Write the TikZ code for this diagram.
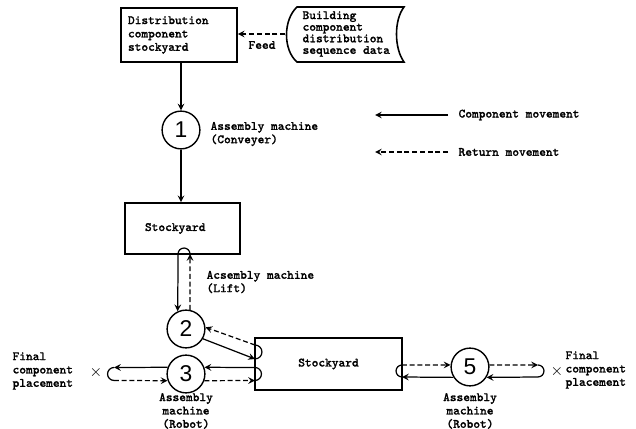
\documentclass[tikz,border=0pt]{standalone}
\usepackage{fontspec}
\setmonofont{Latin Modern Mono}[AutoFakeBold=1.6]
\newfontfamily\digitfont{Liberation Sans}

\begin{document}
\begin{tikzpicture}[x=0.02cm,y=-0.02cm,>=stealth,line width=0.7pt,
  lbl/.style={font=\ttfamily\bfseries\fontsize{7.2}{7.6}\selectfont,inner sep=0pt,align=left},
  box/.style={draw,line width=0.9pt,font=\ttfamily\bfseries\fontsize{7.2}{7.6}\selectfont,align=left},
  mach/.style={draw,circle,line width=0.8pt,minimum size=21.5pt,inner sep=0pt,font=\digitfont\fontsize{13}{13}\selectfont},
  comp/.style={->},
  ret/.style={->,dash pattern=on 2.8pt off 1.6pt}]
\useasboundingbox (0,0) rectangle (636,429);

\node[box,text width=2.04cm,inner xsep=4pt,minimum height=1.08cm] (distyard) at (179,35) {Distribution\\component\\stockyard};
\node[lbl,anchor=west,font=\ttfamily\bfseries\fontsize{7.2}{6.6}\selectfont] (seqdata) at (302,34) {Building\\component\\distribution\\sequence data};
\draw[line width=0.9pt] (297,7) -- (404,7) .. controls (394,20) and (394,48) .. (404,62) -- (297,62) .. controls (283,50) and (283,20) .. (297,7) -- cycle;
\coordinate (feedin) at (285,34);
\draw[ret] (feedin) -- (distyard.east |- feedin);
\node[lbl] (feed) at (262,45) {Feed};

\node[mach] (c1) at (181,130) {1};
\node[lbl,anchor=west] (conv) at (210,134) {Assembly machine\\(Conveyer)};
\draw[comp] (distyard.south -| c1) -- (c1.north);
\node[box,text width=1.5cm,inner xsep=11.3pt,minimum height=1.02cm] (yard2) at (182.5,228.5) {Stockyard};
\draw[comp] (c1.south) -- (yard2.north -| c1);

\node[mach] (c2) at (186,329) {2};
\coordinate (liftr) at (190,254);
\draw[comp] (liftr) arc[start angle=0,end angle=180,radius=3.4pt] -- (c2.115);
\draw[ret] (c2.78) -- (liftr);
\node[lbl,anchor=west] (lift) at (206,282) {Acsembly machine\\(Lift)};

\node[box,minimum width=2.94cm,minimum height=1.04cm] (yard3) at (328.5,364) {Stockyard};
\coordinate (b1t) at (255,345);
\coordinate (b1b) at (255,359);
\coordinate (b2t) at (255,367.5);
\coordinate (b2b) at (255,380.5);
\draw (b1t) arc[start angle=90,end angle=-90,radius=3.96pt];
\draw (b2t) arc[start angle=90,end angle=-90,radius=3.68pt];

\node[mach] (c3) at (186,374) {3};
\draw[ret] (b1t) -- (c2.5);
\draw[comp] (c2.-30) -- (b1b);
\draw[comp] (b2t) -- (c3.20);
\draw[ret] (c3.-20) -- (b2b);

\coordinate (l3t) at (114,367.5);
\coordinate (l3b) at (114,380.5);
\draw[comp] (c3.160) -- (l3t);
\draw (l3t) arc[start angle=90,end angle=270,radius=3.68pt];
\draw[ret] (l3b) -- (c3.200);
\node (xleft) at (96,373) {\small$\times$};
\node[lbl,anchor=west] (finleft) at (12,371) {Final\\component\\placement};
\node[lbl,align=center] (rob3) at (186,411) {Assembly\\machine\\(Robot)};

\node[mach] (c5) at (470,367) {5};
\coordinate (b5t) at (402,365);
\coordinate (b5b) at (402,377);
\draw (b5t) arc[start angle=90,end angle=270,radius=3.4pt];
\draw[ret] (b5t) -- (c5.174);
\draw[comp] (c5.212) -- (b5b);
\coordinate (r5t) at (538,365);
\coordinate (r5b) at (538,377);
\draw[ret] (c5.6) -- (r5t);
\draw (r5t) arc[start angle=90,end angle=-90,radius=3.4pt];
\draw[comp] (r5b) -- (c5.-32);
\node (xright) at (557,372) {\small$\times$};
\node[lbl,anchor=west] (finright) at (565,370) {Final\\component\\placement};
\node[lbl,align=center] (rob5) at (470,411) {Assembly\\machine\\(Robot)};

\coordinate (legc) at (448,115);
\coordinate (legcend) at (375,115);
\coordinate (legr) at (448,152);
\coordinate (legrend) at (375,152);
\node[lbl,anchor=west] (compmove) at (458,115) {Component movement};
\node[lbl,anchor=west] (retmove) at (458,152) {Return movement};
\draw[comp] (legc) -- (legcend);
\draw[ret] (legr) -- (legrend);

\end{tikzpicture}
\end{document}
